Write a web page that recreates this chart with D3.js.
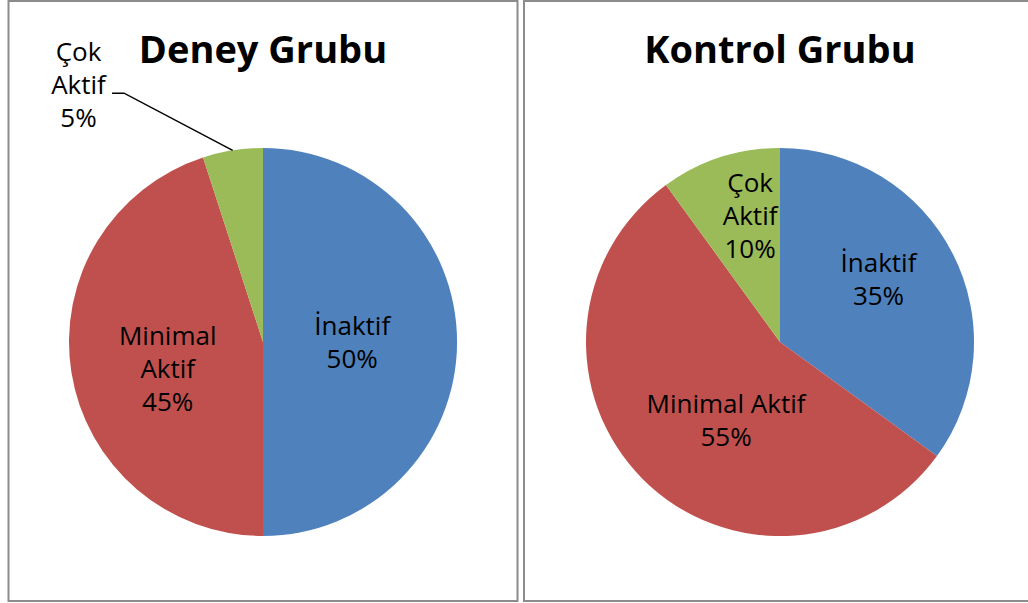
<!DOCTYPE html>
<html>
<head>
<meta charset="utf-8">
<script src="https://cdn.jsdelivr.net/npm/d3@7"></script>
<style>
  body { margin: 0; background: #fff; }
  text { font-family: "Open Sans", sans-serif; fill: #000; }
</style>
</head>
<body>
<script>
// chart data
var groups = ["Deney Grubu", "Kontrol Grubu"];
var categories = ["İnaktif", "Minimal Aktif", "Çok Aktif"];
var deneyValues = [50, 45, 5];
var kontrolValues = [35, 55, 10];
var colors = ["#4F81BD", "#C0504D", "#9BBB59"];

var width = 1028,
    height = 603;

// layout for each panel (positions, label placement)
var panels = [
  { values: deneyValues, x0: 8.5, x1: 517.5, cx: 263, cy: 342,
    labels: [
      { shift: 0, f: 0.46, split: false },
      { shift: -6.6, f: 0.51, split: true },
      { shift: -26.7, f: 1.63, split: true, outside: true }
    ] },
  { values: kontrolValues, x0: 524, x1: 1040, cx: 780, cy: 342,
    labels: [
      { shift: -5.2, f: 0.60, split: false },
      { shift: -10.4, f: 0.49, split: false },
      { shift: 4.7, f: 0.67, split: true }
    ] }
];
var radius = 194,
    lineGap = 33;

var svg = d3.select("body").append("svg")
    .attr("width", width)
    .attr("height", height);

var pie = d3.pie().sort(null).value(function(d){ return d; });
var arc = d3.arc().innerRadius(0).outerRadius(radius);

panels.forEach(function(p, gi){
  svg.append("rect")
      .attr("x", p.x0)
      .attr("y", 1)
      .attr("width", p.x1 - p.x0)
      .attr("height", 600)
      .attr("fill", "#fff")
      .attr("stroke", "#8c8c8c")
      .attr("stroke-width", 2);

  svg.append("text")
      .attr("x", p.cx)
      .attr("y", 63)
      .attr("text-anchor", "middle")
      .style("font-size", "38px")
      .style("font-weight", "bold")
      .text(groups[gi]);

  var g = svg.append("g")
      .attr("transform", "translate(" + p.cx + "," + p.cy + ")");

  var arcs = pie(p.values);

  g.selectAll("path")
      .data(arcs).enter()
      .append("path")
      .attr("d", arc)
      .attr("fill", function(d, i){ return colors[i]; });

  arcs.forEach(function(d, i){
    var lay = p.labels[i];
    var mid = (d.startAngle + d.endAngle) / 2;
    var a = mid + lay.shift * Math.PI / 180;
    var lx = lay.f * radius * Math.sin(a),
        ly = -lay.f * radius * Math.cos(a);

    var lines = lay.split ? categories[i].split(" ") : [categories[i]];
    lines.push(d.data + "%");

    var t = g.append("text")
        .attr("text-anchor", "middle")
        .style("font-size", "26px");
    var n = lines.length;
    lines.forEach(function(line, k){
      t.append("tspan")
          .attr("x", lx)
          .attr("y", ly + (k - (n - 1) / 2) * lineGap + 9)
          .text(line);
    });

    if(lay.outside){
      // leader line from label to slice edge
      var midLine = t.selectAll("tspan").nodes()[Math.floor(n / 2)];
      var bb = midLine.getBBox();
      var sx = bb.x + bb.width + 5,
          sy = ly + 8;
      var ex = radius * Math.sin(mid),
          ey = -radius * Math.cos(mid);
      g.append("path")
          .attr("d", "M" + sx + "," + sy + "L" + (sx + 12) + "," + sy + "L" + ex + "," + ey)
          .attr("fill", "none")
          .attr("stroke", "#000")
          .attr("stroke-width", 1.5);
    }
  });
});
</script>
</body>
</html>
